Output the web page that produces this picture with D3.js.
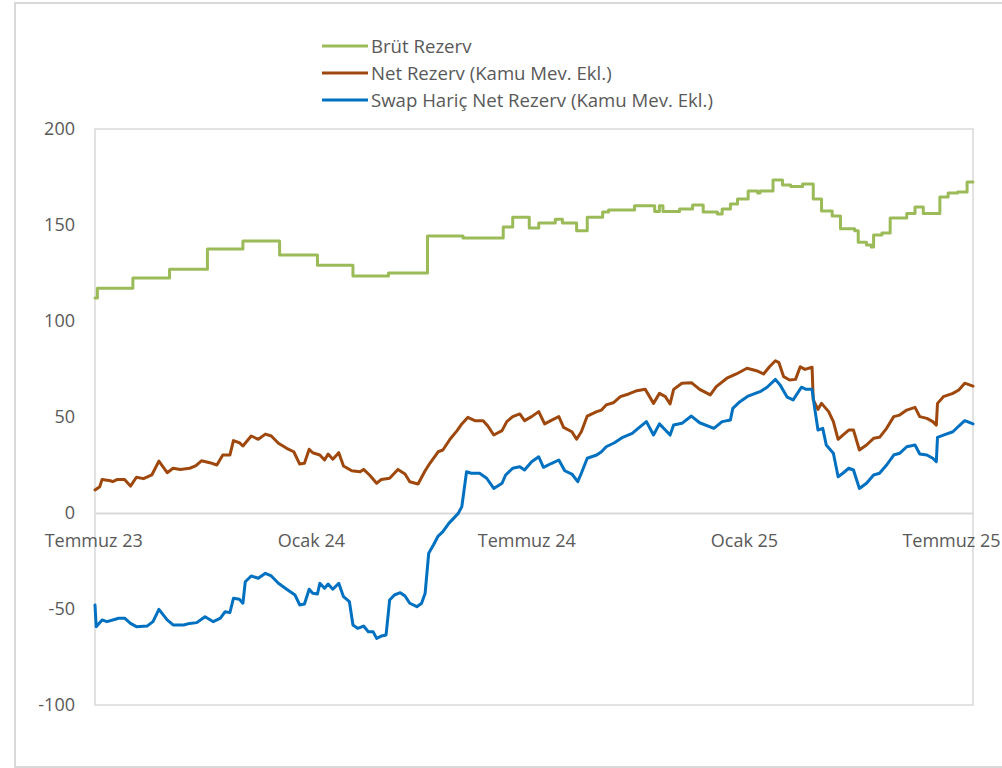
<!DOCTYPE html>
<html>
<head>
<meta charset="utf-8">
<script src="https://cdn.jsdelivr.net/npm/d3@7"></script>
<style>
  html, body { margin: 0; padding: 0; background: #fff; }
  svg { display: block; }
  text { font-family: "Open Sans", "Noto Sans", sans-serif; }
</style>
</head>
<body>
<svg id="chart" width="1002" height="768"></svg>
<script>
// ---------- DATA ----------
const seriesNames = ["Brüt Rezerv", "Net Rezerv (Kamu Mev. Ekl.)", "Swap Hariç Net Rezerv (Kamu Mev. Ekl.)"];

const xTickDates = ["2023-07-01", "2024-01-01", "2024-07-01", "2025-01-01", "2025-07-01"];
const xTickLabels = ["Temmuz 23", "Ocak 24", "Temmuz 24", "Ocak 25", "Temmuz 25"];
const yTicks = [-100, -50, 0, 50, 100, 150, 200];

const brutDates = ["2023-06-30","2023-07-02","2023-08-01","2023-09-01","2023-10-03","2023-11-02","2023-12-03","2024-01-04","2024-02-03","2024-03-04",
  "2024-04-06","2024-05-06","2024-06-09","2024-06-17","2024-07-01","2024-07-09","2024-07-23","2024-07-29","2024-08-10","2024-08-19",
  "2024-09-01","2024-09-06","2024-09-28","2024-10-15","2024-10-19","2024-10-22","2024-11-05","2024-11-16","2024-11-25","2024-12-07",
  "2024-12-11","2024-12-18","2024-12-24","2025-01-02","2025-01-10","2025-01-12","2025-01-23","2025-01-31","2025-02-07","2025-02-17",
  "2025-02-26","2025-03-05","2025-03-14","2025-03-21","2025-04-02","2025-04-05","2025-04-12","2025-04-16","2025-04-18","2025-04-25",
  "2025-05-02","2025-05-16","2025-05-23","2025-05-30","2025-06-13","2025-06-20","2025-06-28","2025-07-06","2025-07-11"];
const brutValues = [112,117,122.4,127,137.5,141.7,134.4,129,123.4,125,
  144.3,143.2,149,154,148.4,151,153,151,147,154,
  156.8,157.8,160,157,160,157,158.3,160.4,156.8,155.7,
  158.3,161,163.5,167.7,166.7,167.7,173.4,170.8,170,171.4,
  163.5,157.3,154.7,148,147,141,139.6,138.5,144.8,145.8,
  153.6,156,159.4,156,164.6,166.7,167.2,172.4,172.4];

const netDates = ["2023-06-30","2023-07-04","2023-07-06","2023-07-13","2023-07-15","2023-07-19","2023-07-25","2023-07-30","2023-08-04","2023-08-10",
  "2023-08-17","2023-08-23","2023-08-30","2023-09-04","2023-09-10","2023-09-18","2023-09-23","2023-09-28","2023-10-05","2023-10-11",
  "2023-10-16","2023-10-22","2023-10-25","2023-10-30","2023-11-02","2023-11-09","2023-11-15","2023-11-21","2023-11-26","2023-12-02",
  "2023-12-09","2023-12-15","2023-12-20","2023-12-24","2023-12-28","2023-12-31","2024-01-06","2024-01-10","2024-01-13","2024-01-17",
  "2024-01-22","2024-01-26","2024-02-02","2024-02-09","2024-02-12","2024-02-17","2024-02-23","2024-02-27","2024-03-05","2024-03-12",
  "2024-03-18","2024-03-22","2024-03-29","2024-04-04","2024-04-08","2024-04-15","2024-04-19","2024-04-25","2024-05-01","2024-05-05",
  "2024-05-10","2024-05-16","2024-05-23","2024-05-27","2024-06-01","2024-06-08","2024-06-12","2024-06-17","2024-06-23","2024-06-27",
  "2024-07-03","2024-07-09","2024-07-14","2024-07-20","2024-07-26","2024-07-30","2024-08-06","2024-08-10","2024-08-14","2024-08-19",
  "2024-08-27","2024-08-31","2024-09-04","2024-09-10","2024-09-16","2024-09-23","2024-09-30","2024-10-07","2024-10-14","2024-10-19",
  "2024-10-24","2024-10-28","2024-10-31","2024-11-07","2024-11-15","2024-11-22","2024-12-01","2024-12-06","2024-12-15","2024-12-23",
  "2025-01-01","2025-01-09","2025-01-15","2025-01-20","2025-01-25","2025-01-28","2025-02-01","2025-02-06","2025-02-11","2025-02-15",
  "2025-02-19","2025-02-25","2025-02-26","2025-03-02","2025-03-05","2025-03-11","2025-03-15","2025-03-19","2025-03-23","2025-03-28",
  "2025-04-01","2025-04-06","2025-04-12","2025-04-18","2025-04-23","2025-04-29","2025-05-05","2025-05-10","2025-05-16","2025-05-23",
  "2025-05-27","2025-06-02","2025-06-07","2025-06-10","2025-06-11","2025-06-16","2025-06-24","2025-06-29","2025-07-04","2025-07-11"];
const netValues = [12,13.7,17.5,16.8,16.3,17.5,17.5,14,18.6,17.9,
  19.8,27,21,23.3,22.7,23.3,24.5,27.2,26.2,25,
  30.2,30.2,37.7,36.6,34.9,40.1,38.4,41.1,40.1,36.3,
  33.7,31.9,25.5,25.9,33.2,31.4,30.2,27.6,30.7,28,
  31.4,24.5,22,21.5,22.7,19.8,15.5,17.5,18.1,22.7,
  20.3,16.3,15.1,22,25.9,31.9,32.8,38.4,42.9,46.4,
  49.8,48.1,48.1,45.3,40.6,42.9,47.6,50.2,51.6,48.1,
  50.2,52.8,46.4,48.4,50.2,44.6,42.3,38.4,42.3,50.5,
  52.8,53.6,56.3,57.4,60.6,62,63.7,64.4,57.1,62.3,
  60.6,56.8,64.4,67.6,67.9,64.4,61.5,65.8,70.2,72.4,
  75.4,74.1,72.4,76.2,79.3,78.3,71,69.3,69.6,76.2,
  74.8,75.9,58.9,54,57.1,52.8,47.6,38.4,40.6,43.2,
  43.2,32.8,35.4,38.9,39.4,44.1,50.2,51,53.6,55,
  50.2,49.3,47.6,45.8,57.1,60.6,62.3,64.1,67.6,66.1];

const swapDates = ["2023-06-30","2023-07-01","2023-07-06","2023-07-10","2023-07-15","2023-07-20","2023-07-25","2023-07-30","2023-08-04","2023-08-13",
  "2023-08-18","2023-08-23","2023-08-30","2023-09-04","2023-09-13","2023-09-18","2023-09-24","2023-10-01","2023-10-08","2023-10-14",
  "2023-10-18","2023-10-22","2023-10-25","2023-10-30","2023-11-02","2023-11-04","2023-11-09","2023-11-15","2023-11-21","2023-11-26",
  "2023-12-02","2023-12-09","2023-12-16","2023-12-20","2023-12-24","2023-12-28","2023-12-31","2024-01-04","2024-01-06","2024-01-10",
  "2024-01-13","2024-01-17","2024-01-22","2024-01-26","2024-01-31","2024-02-03","2024-02-07","2024-02-12","2024-02-16","2024-02-20",
  "2024-02-23","2024-02-27","2024-03-02","2024-03-05","2024-03-09","2024-03-14","2024-03-18","2024-03-22","2024-03-28","2024-04-01",
  "2024-04-04","2024-04-07","2024-04-11","2024-04-15","2024-04-19","2024-04-24","2024-04-28","2024-05-02","2024-05-05","2024-05-09",
  "2024-05-13","2024-05-20","2024-05-26","2024-06-01","2024-06-08","2024-06-11","2024-06-17","2024-06-23","2024-06-27","2024-07-03",
  "2024-07-09","2024-07-13","2024-07-20","2024-07-26","2024-07-31","2024-08-06","2024-08-11","2024-08-14","2024-08-19","2024-08-27",
  "2024-08-31","2024-09-04","2024-09-11","2024-09-18","2024-09-26","2024-10-01","2024-10-08","2024-10-14","2024-10-19","2024-10-24",
  "2024-10-28","2024-10-31","2024-11-07","2024-11-15","2024-11-22","2024-12-04","2024-12-11","2024-12-18","2024-12-20","2024-12-26",
  "2025-01-02","2025-01-08","2025-01-12","2025-01-18","2025-01-25","2025-01-29","2025-02-04","2025-02-09","2025-02-16","2025-02-20",
  "2025-02-25","2025-02-27","2025-03-02","2025-03-06","2025-03-09","2025-03-15","2025-03-19","2025-03-23","2025-03-28","2025-04-01",
  "2025-04-06","2025-04-12","2025-04-18","2025-04-23","2025-04-29","2025-05-05","2025-05-10","2025-05-16","2025-05-23","2025-05-27",
  "2025-06-02","2025-06-07","2025-06-10","2025-06-11","2025-06-16","2025-06-24","2025-06-29","2025-07-04","2025-07-11"];
const swapValues = [-47.9,-59.2,-55.7,-56.6,-55.7,-54.8,-54.8,-57.5,-59.2,-58.9,
  -56.6,-50.2,-55.7,-58.3,-58.3,-57.5,-57.1,-54,-56.6,-54.8,
  -51.4,-51.9,-44.4,-44.9,-47,-35.8,-32.8,-34,-31.4,-32.8,
  -36.6,-39.7,-42.7,-47.9,-47.4,-39.7,-41.8,-42.2,-36.6,-39.2,
  -37,-39.7,-36.6,-43.6,-46.2,-58.3,-60.1,-58.9,-61.8,-61.8,
  -65.3,-64.1,-63.5,-45.3,-42.7,-41.5,-43.2,-47,-48.8,-47,
  -41.8,-21,-16.7,-12,-9.7,-5.4,-2.8,-0.2,3.3,21.5,
  20.7,20.7,18.1,12.8,15.5,19.8,23.3,24.1,22.4,26.7,
  29.3,23.8,25.9,27.6,22,20.3,16.3,20.7,28.5,30.2,
  31.9,34.5,36.6,39.4,41.5,44.1,47.6,40.6,46.4,43.2,
  40.6,45.8,46.7,50.5,47,44.1,47.6,48.4,54.5,58,
  60.9,62.3,63.2,65.5,69.6,66.7,60.3,58.9,65.5,64.4,
  64.4,55.4,43.2,44.1,35.4,31.1,18.9,20.7,23.3,22.4,
  12.8,15.5,19.8,20.7,25,30.2,31.1,34.5,35.4,30.7,
  30.2,28.5,26.7,39.4,40.6,42.3,45.3,48.1,46.4];

// ---------- CHART ----------
const parse = d3.timeParse("%Y-%m-%d");
const colors = ["#9BBB59", "#9E480E", "#0070C0"];

const svg = d3.select("#chart");
svg.append("rect").attr("width", 1002).attr("height", 768).attr("fill", "#fff");

// outer chart frame
svg.append("rect")
  .attr("x", 15).attr("y", 3).attr("width", 1010).attr("height", 764)
  .attr("fill", "none").attr("stroke", "#D9D9D9").attr("stroke-width", 2);

const plot = { left: 95, right: 973, top: 129, bottom: 705 };

const x = d3.scaleTime()
  .domain([parse("2023-06-30"), parse("2025-07-11")])
  .range([plot.left, plot.right]);
const y = d3.scaleLinear()
  .domain([-100, 200])
  .range([plot.bottom, plot.top]);

// plot area border
svg.append("rect")
  .attr("x", plot.left).attr("y", plot.top)
  .attr("width", plot.right - plot.left).attr("height", plot.bottom - plot.top)
  .attr("fill", "none").attr("stroke", "#D9D9D9").attr("stroke-width", 1.5);

// y axis
const yAxis = svg.append("g")
  .attr("transform", `translate(${plot.left},0)`)
  .call(d3.axisLeft(y).tickValues(yTicks).tickSize(0).tickPadding(20).tickFormat(d => String(d)));
yAxis.select(".domain").remove();
yAxis.selectAll("text").attr("fill", "#595959").style("font-size", "18px")
  .style("font-family", "'Open Sans', sans-serif");

// x axis at zero
const xAxis = svg.append("g")
  .attr("transform", `translate(0,${y(0)})`)
  .call(d3.axisBottom(x)
    .tickValues(xTickDates.map(parse))
    .tickSize(0).tickPadding(21)
    .tickFormat((d, i) => xTickLabels[i]));
xAxis.select(".domain").attr("stroke", "#D9D9D9").attr("stroke-width", 2);
xAxis.selectAll("text").attr("fill", "#595959").style("font-size", "18px")
  .style("font-family", "'Open Sans', sans-serif")
  .attr("dx", -3);
// keep the last label inside the picture
const lastTick = xAxis.selectAll(".tick").filter((d, i, n) => i === n.length - 1);
lastTick.select("text")
  .attr("text-anchor", "end")
  .attr("dx", null)
  .attr("x", 1000 - x(parse(xTickDates[xTickDates.length - 1])));

// series
const series = [
  { dates: brutDates, values: brutValues, curve: d3.curveStepAfter },
  { dates: netDates, values: netValues, curve: d3.curveLinear },
  { dates: swapDates, values: swapValues, curve: d3.curveLinear }
];

series.forEach((s, k) => {
  const pts = s.dates.map((d, i) => ({ date: parse(d), value: s.values[i] }));
  const line = d3.line().x(d => x(d.date)).y(d => y(d.value)).curve(s.curve);
  svg.append("path")
    .datum(pts)
    .attr("d", line)
    .attr("fill", "none")
    .attr("stroke", colors[k])
    .attr("stroke-width", 3)
    .attr("stroke-linejoin", "round")
    .attr("stroke-linecap", "round");
});

// legend
const legendY = [46, 73, 100];
const leg = svg.append("g");
seriesNames.forEach((name, i) => {
  leg.append("line")
    .attr("x1", 322).attr("x2", 368)
    .attr("y1", legendY[i]).attr("y2", legendY[i])
    .attr("stroke", colors[i]).attr("stroke-width", 3);
  leg.append("text")
    .attr("x", 371).attr("y", legendY[i]).attr("dy", "0.35em")
    .attr("fill", "#595959")
    .style("font-size", "18.6px")
    .text(name);
});
</script>
</body>
</html>
